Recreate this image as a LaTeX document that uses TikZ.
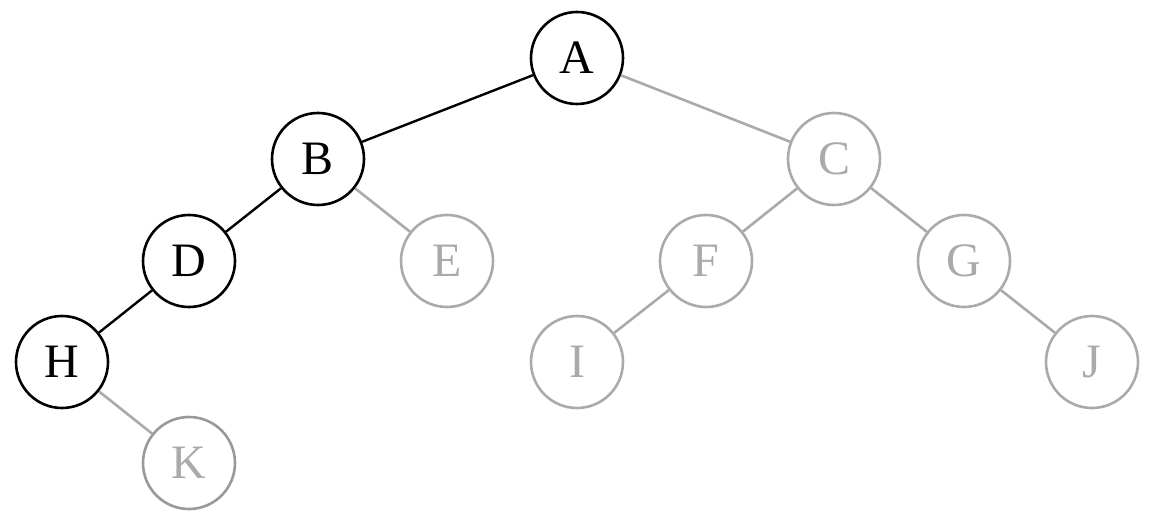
\documentclass[tikz,border=0pt]{standalone}
\usepackage{fontspec}
\setmainfont{Liberation Serif}
\definecolor{lg}{HTML}{AAAAAA}
\definecolor{kg}{HTML}{999999}
\begin{document}
\begin{tikzpicture}[x=1pt,y=-1pt,
  vtx/.style={circle,draw,line width=2.6pt,minimum size=92pt,inner sep=0pt,font=\fontsize{48}{48}\selectfont},
  on/.style={vtx,draw=black,text=black},
  off/.style={vtx,draw=lg,text=lg},
  eon/.style={line width=2.4pt,draw=black},
  eoff/.style={line width=2.6pt,draw=lg}]
\useasboundingbox (0,0) rectangle (1152,521);
\node[on] (A) at (577,58) {A};
\node[on] (B) at (318,159) {B};
\node[off] (C) at (834,159) {C};
\node[on] (D) at (189,261) {D};
\node[off] (E) at (447,261) {E};
\node[off] (F) at (706,261) {F};
\node[off] (G) at (964,261) {G};
\node[on] (H) at (62,362) {H};
\node[off] (I) at (577,362) {I};
\node[off] (J) at (1092,362) {J};
\node[off,draw=kg] (K) at (189,463) {K};
\draw[eon] (A) -- (B);
\draw[eon] (B) -- (D);
\draw[eon] (D) -- (H);
\draw[eoff] (A) -- (C);
\draw[eoff] (B) -- (E);
\draw[eoff] (C) -- (F);
\draw[eoff] (C) -- (G);
\draw[eoff] (F) -- (I);
\draw[eoff] (G) -- (J);
\draw[eoff] (H) -- (K);
\end{tikzpicture}
\end{document}
